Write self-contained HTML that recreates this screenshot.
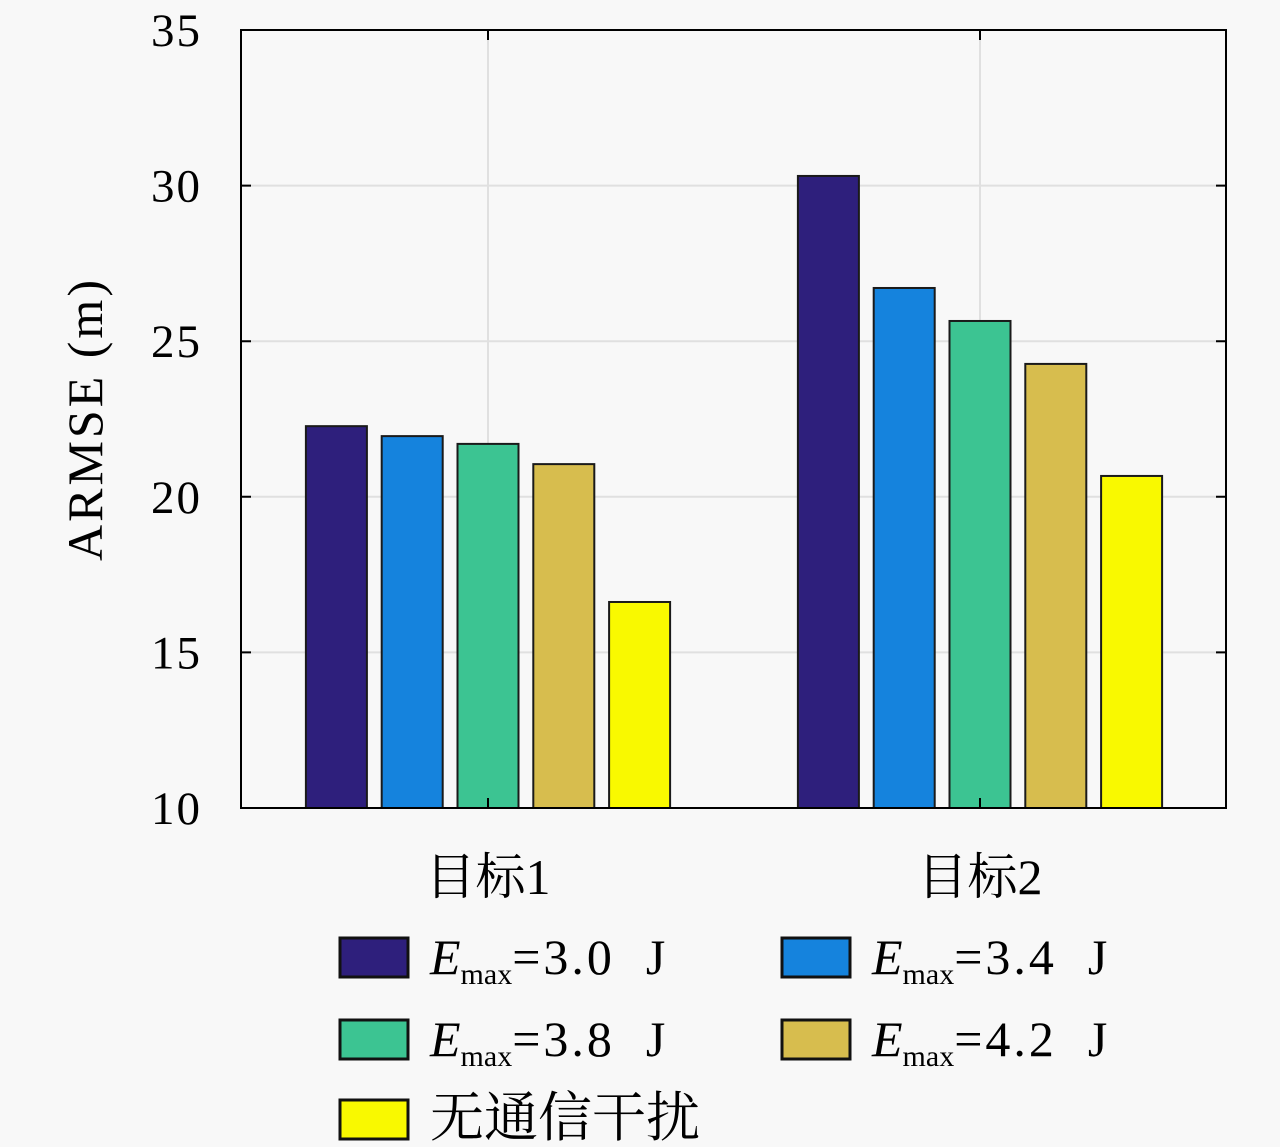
<!DOCTYPE html>
<html><head><meta charset="utf-8"><style>
body{margin:0;background:#f8f8f8;}
svg{display:block;font-family:"Liberation Serif","Noto Serif CJK SC",serif;}
</style></head><body>
<svg id="chart" width="1280" height="1147" viewBox="0 0 1280 1147">
<rect x="0" y="0" width="1280" height="1147" fill="#f8f8f8"/>
<g id="grid"></g><g id="bars"></g><g id="axes"></g><g id="legend"></g>
</svg>
<script>
const categories = ["目标1", "目标2"];
const seriesNames = ["3.0", "3.4", "3.8", "4.2", "无通信干扰"];
const s30 = [22.27, 30.31];
const s34 = [21.95, 26.71];
const s38 = [21.7, 25.65];
const s42 = [21.05, 24.27];
const sNone = [16.62, 20.67];
const yTicks = [10, 15, 20, 25, 30, 35];
const series = [s30, s34, s38, s42, sNone];
const colors = ["#2e1f7c", "#1583dd", "#3cc492", "#d7bd4e", "#f9f900"];

const NS = "http://www.w3.org/2000/svg";
const X0 = 241, X1 = 1226, Y0 = 808, Y1 = 30, YMIN = 10, YMAX = 35;
const y = v => Y0 - (v - YMIN) / (YMAX - YMIN) * (Y0 - Y1);
const groupCenters = [488, 980];
const xc = i => groupCenters[0] + i * (groupCenters[1] - groupCenters[0]);
const barStep = 75.8, barW = 61;
function mk(tag, attrs, parent) {
  const e = document.createElementNS(NS, tag);
  for (const k in attrs) e.setAttribute(k, attrs[k]);
  parent.appendChild(e); return e;
}
const grid = document.getElementById('grid');
const bars = document.getElementById('bars');
const axes = document.getElementById('axes');
const legend = document.getElementById('legend');

yTicks.forEach(t => {
  if (t > YMIN && t < YMAX) {
    const l = mk('line', {x1: X0, x2: X1, y1: y(t), y2: y(t), stroke: '#e0e0e0', 'stroke-width': 2}, grid);
    
    
  }
  const tk = mk('path', {d: `M${X0} ${y(t)}h10M${X1} ${y(t)}h-10`, stroke: '#000', 'stroke-width': 2}, axes);
  
  
  const tx = mk('text', {x: 202, y: y(t) + 16, 'text-anchor': 'end', 'font-size': 47, 'letter-spacing': 2}, axes);
  tx.textContent = t;
  
  
});
categories.forEach((c, i) => {
  const l = mk('line', {x1: xc(i), x2: xc(i), y1: Y1, y2: Y0, stroke: '#e0e0e0', 'stroke-width': 2}, grid);
  
  
  const tk = mk('path', {d: `M${xc(i)} ${Y0}v-10M${xc(i)} ${Y1}v10`, stroke: '#000', 'stroke-width': 2}, axes);
  
  
  const tx = mk('text', {x: xc(i), y: 894, 'text-anchor': 'middle', 'font-size': 50}, axes);
  tx.textContent = c;
  
  
  series.forEach((s, k) => {
    const cx = xc(i) + (k - 2) * barStep;
    const r = mk('rect', {x: cx - barW / 2, y: y(s[i]), width: barW, height: Y0 - y(s[i]), fill: colors[k], stroke: '#1a1a1a', 'stroke-width': 2}, bars);
    
    
  });
});
const frame = mk('rect', {x: X0, y: Y1, width: X1 - X0, height: Y0 - Y1, fill: 'none', stroke: '#000', 'stroke-width': 2}, axes);


const yt = mk('text', {x: 0, y: 0, transform: 'translate(102,419) rotate(-90)', 'text-anchor': 'middle', 'font-size': 50, 'letter-spacing': 3}, axes);
yt.textContent = 'ARMSE (m)';



const pos = [[340, 938], [782, 938], [340, 1020], [782, 1020], [340, 1100]];
series.forEach((s, k) => {
  const [lx, ly] = pos[k];
  const g = mk('g', {}, legend);
  
  
  const sw = mk('rect', {x: lx, y: ly, width: 68, height: 39, fill: colors[k], stroke: '#111', 'stroke-width': 3}, g);
  
  
  const t = mk('text', {x: lx + 90, y: ly + 36, 'font-size': 50}, g);
  
  
  if (k < 4) {
    t.innerHTML = '<tspan font-style="italic">E</tspan><tspan font-size="30" dy="10">max</tspan><tspan dy="-10" letter-spacing="3">=' + seriesNames[k] + '&#160;&#160;J</tspan>';
  } else {
    t.setAttribute('font-size', 54);
    t.textContent = seriesNames[k];
  }
});
</script>
</body></html>
